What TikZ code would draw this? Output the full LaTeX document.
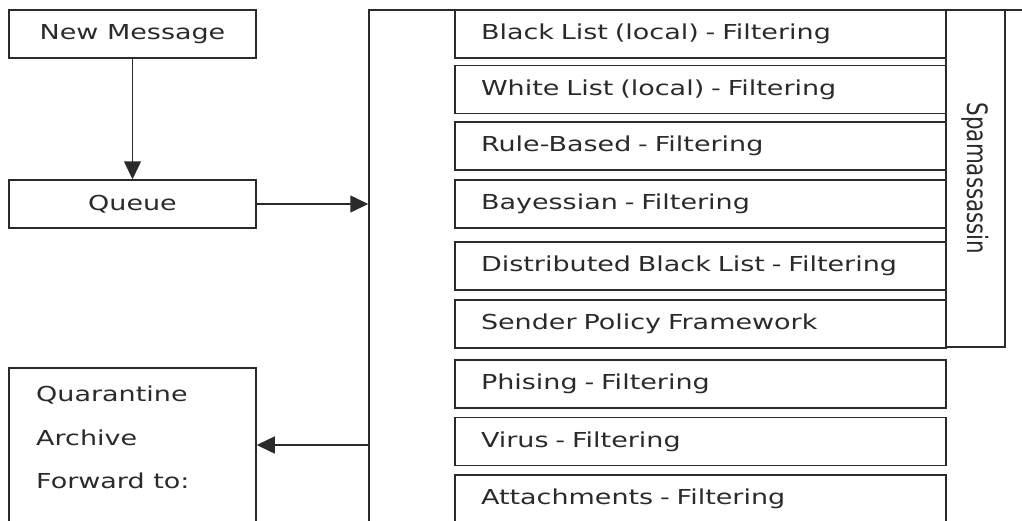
\documentclass[tikz,border=0pt]{standalone}
\usepackage{fontspec}
\setmainfont{DejaVu Sans}[FakeStretch=1.31]
\newfontfamily\uprightfont{DejaVu Sans}
\usetikzlibrary{arrows.meta,calc}
\definecolor{ink}{HTML}{2A2A2A}
\tikzset{
  box/.style={draw=ink, line width=1.5pt, rectangle, inner sep=0pt, text=ink,
    font=\fontsize{20.6}{24}\selectfont},
  filterbox/.style={box, minimum width=491pt, minimum height=48pt,
    text width=439pt, align=left, inner xsep=26pt},
  arr/.style={draw=ink, line width=1.5pt, -{Triangle[length=18pt,width=17pt]}}
}
\begin{document}
\begin{tikzpicture}[x=1pt,y=-1pt]
\useasboundingbox (0,0) rectangle (1022,520);
\clip (0,0) rectangle (1022,520);

% left column
\node[box, minimum width=247pt, minimum height=48pt] (new) at (132.5,34) {New Message};
\node[box, minimum width=247pt, minimum height=48pt] (queue) at (132.5,204) {Queue};
\node[box, minimum width=247pt, minimum height=177pt] (quar) at (132.5,456.5) {};
\node[anchor=north west, align=left, inner sep=0pt, text=ink,
      font=\fontsize{20.6}{43.5}\selectfont] (quartext) at (36,386)
      {Quarantine\\Archive\\Forward to:};

% enclosing frame of the filter chain
\node[box, minimum width=671pt, minimum height=535pt] (frame) at (704.5,277.5) {};

% filters
\node[filterbox] (f1) at (700.5,34)    {Black List (local) - Filtering};
\node[filterbox] (f2) at (700.5,89.5)  {White List (local) - Filtering};
\node[filterbox] (f3) at (700.5,146)   {Rule-Based - Filtering};
\node[filterbox] (f4) at (700.5,204)   {Bayessian - Filtering};
\node[filterbox] (f5) at (700.5,266)   {Distributed Black List - Filtering};
\node[filterbox] (f6) at (700.5,324)   {Sender Policy Framework};
\node[filterbox] (f7) at (700.5,384)   {Phising - Filtering};
\node[filterbox] (f8) at (700.5,441.5) {Virus - Filtering};
\node[filterbox] (f9) at (700.5,499)   {Attachments - Filtering};

% spamassassin group
\node[box, minimum width=59pt, minimum height=337pt] (spam) at (975.5,178.5) {};
\node[rotate=-90, text=ink, inner sep=0pt] (spamtext) at (spam.center)
  {\scalebox{1}[1.31]{\uprightfont\fontsize{21.4}{24}\selectfont Spamassassin}};

% flow
\draw[arr] (new) -- (queue);
\draw[arr] (queue.east) -- (queue.east -| frame.west);
\draw[arr] ([yshift=11.5pt]quar.east -| frame.west) -- ([yshift=11.5pt]quar.east);
\end{tikzpicture}
\end{document}
